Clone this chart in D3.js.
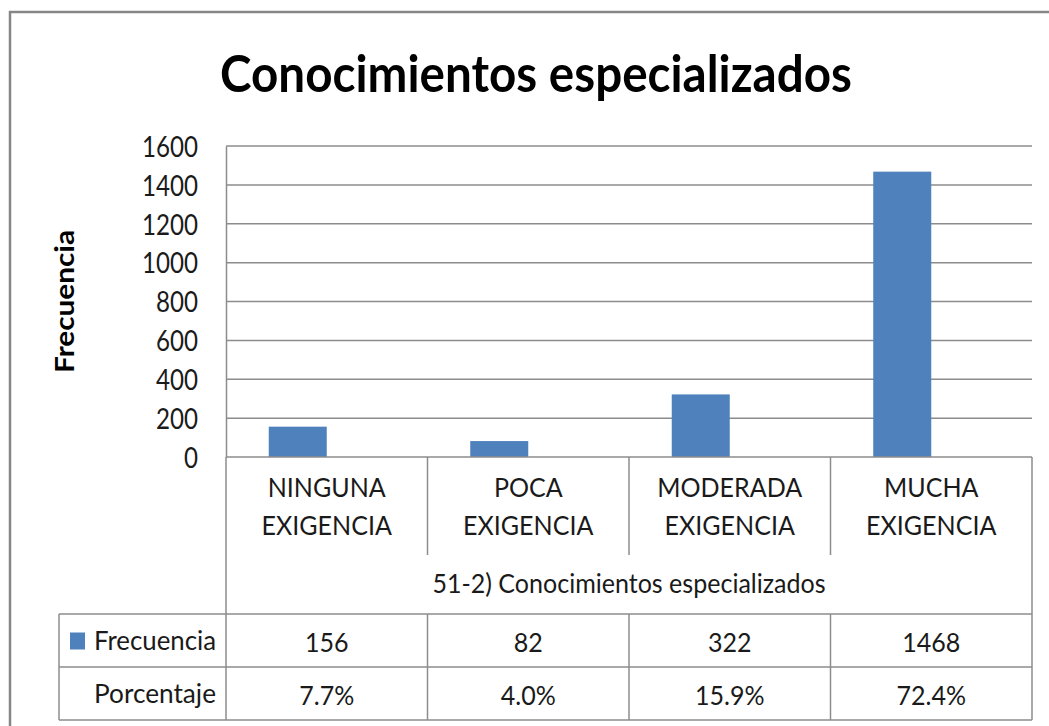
<!DOCTYPE html>
<html>
<head>
<meta charset="utf-8">
<script src="https://cdn.jsdelivr.net/npm/d3@7"></script>
<style>
  html, body { margin: 0; padding: 0; background: #fff; }
  svg { display: block; font-family: Lato, 'Open Sans', sans-serif; }
</style>
</head>
<body>
<svg width="1049" height="726"></svg>
<script>
const chartTitle = 'Conocimientos especializados';
const axisTitle = 'Frecuencia';
const groupTitle = '51-2) Conocimientos especializados';
const categories = ['NINGUNA EXIGENCIA', 'POCA EXIGENCIA', 'MODERADA EXIGENCIA', 'MUCHA EXIGENCIA'];
const seriesNames = ['Frecuencia', 'Porcentaje'];
const frecuencia = [156, 82, 322, 1468];
const porcentaje = [0.077, 0.040, 0.159, 0.724];
const yTicks = [0, 200, 400, 600, 800, 1000, 1200, 1400, 1600];

const barColor = '#4F81BD';
const lineColor = '#8c8c8c';
const textColor = '#1a1a1a';

const svg = d3.select('svg');

// plot area box
const plot = { left: 226, right: 1032, top: 146, bottom: 457 };
const table = { left: 59, top: 614, mid: 667, bottom: 720 };

const x = d3.scaleBand()
	.domain(categories)
	.range([plot.left, plot.right])
	.padding(0);

const xInner = d3.scaleBand()
	.domain(seriesNames)
	.range([0, x.bandwidth()])
	.paddingInner(0)
	.paddingOuter(0.737);

const y = d3.scaleLinear()
	.domain([0, 1600])
	.range([plot.bottom, plot.top]);

// measuring helper, to squeeze the fallback font to the original widths
const measure = (txt, size, weight) => {
	const t = svg.append('text')
		.attr('font-size', size)
		.attr('font-weight', weight)
		.text(txt);
	const w = t.node().getComputedTextLength();
	t.remove();
	return w;
};
const bodySize = 27.5;
const tickSize = 28.5;
const kBody = 118 / measure('NINGUNA', bodySize, 'normal');
const kTick = 56 / measure('1600', tickSize, 'normal');
const squeeze = (sel, k) => {
	sel.each(function () {
		const w = this.getComputedTextLength();
		d3.select(this)
			.attr('textLength', w * k)
			.attr('lengthAdjust', 'spacingAndGlyphs');
	});
};

// outer frame
svg.append('rect')
	.attr('x', 10)
	.attr('y', 12)
	.attr('width', 1100)
	.attr('height', 800)
	.attr('fill', 'none')
	.attr('stroke', '#868686')
	.attr('stroke-width', 2.5);

// title
const title = svg.append('text')
	.attr('x', 536)
	.attr('y', 92)
	.attr('text-anchor', 'middle')
	.attr('font-size', 52)
	.attr('font-weight', 'bold')
	.attr('fill', '#000')
	.text(chartTitle);
squeeze(title, 632 / title.node().getComputedTextLength());

// gridlines
svg.append('g')
	.selectAll('line')
	.data(yTicks.filter(d => d > 0))
	.enter()
		.append('line')
		.attr('x1', plot.left)
		.attr('x2', plot.right)
		.attr('y1', d => y(d))
		.attr('y2', d => y(d))
		.attr('stroke', lineColor)
		.attr('stroke-width', 1.5);

// y axis
const yAxis = svg.append('g')
	.attr('transform', `translate(${plot.left},0)`)
	.call(d3.axisLeft(y).tickValues(yTicks).tickFormat(d3.format('d')).tickSize(0).tickPadding(28));
yAxis.select('.domain')
	.attr('stroke', lineColor)
	.attr('stroke-width', 1.5);
yAxis.selectAll('text')
	.attr('font-family', 'Lato, sans-serif')
	.attr('font-size', tickSize)
	.attr('fill', textColor)
	.attr('dy', '0.36em');
squeeze(yAxis.selectAll('text'), kTick);

// y title
const yTitle = svg.append('text')
	.attr('transform', `translate(74, ${(plot.top + plot.bottom) / 2}) rotate(-90)`)
	.attr('text-anchor', 'middle')
	.attr('font-size', 27)
	.attr('font-weight', 'bold')
	.attr('fill', '#000')
	.text(axisTitle);
squeeze(yTitle, 143 / yTitle.node().getComputedTextLength());

// bars
const rows = categories.map((c, i) => ({ cat: c, values: [frecuencia[i], porcentaje[i]] }));
const groups = svg.append('g')
	.selectAll('g')
	.data(rows)
	.enter()
		.append('g')
		.attr('transform', d => `translate(${x(d.cat)},0)`);
groups.selectAll('rect')
	.data(d => d.values.map((v, j) => ({ key: seriesNames[j], v })))
	.enter()
		.append('rect')
		.attr('x', d => xInner(d.key))
		.attr('y', d => y(d.v))
		.attr('width', xInner.bandwidth())
		.attr('height', d => y(0) - y(d.v))
		.attr('fill', d => d.key === 'Frecuencia' ? barColor : 'none');

// axis base line
svg.append('line')
	.attr('x1', plot.left)
	.attr('x2', plot.right)
	.attr('y1', y(0))
	.attr('y2', y(0))
	.attr('stroke', lineColor)
	.attr('stroke-width', 1.5);

// category header cells
const lines = svg.append('g')
	.attr('stroke', lineColor)
	.attr('stroke-width', 1.5);
categories.slice(1).forEach((c) => {
	lines.append('line')
		.attr('x1', x(c)).attr('x2', x(c))
		.attr('y1', y(0)).attr('y2', 555);
});
lines.append('line')
	.attr('x1', plot.left).attr('x2', plot.left)
	.attr('y1', y(0)).attr('y2', table.bottom);
lines.append('line')
	.attr('x1', plot.right).attr('x2', plot.right)
	.attr('y1', y(0)).attr('y2', table.bottom);

const catText = svg.append('g')
	.attr('font-size', bodySize)
	.attr('fill', textColor)
	.attr('text-anchor', 'middle');
categories.forEach((c) => {
	c.split(' ').forEach((part, k) => {
		catText.append('text')
			.attr('x', x(c) + x.bandwidth() / 2)
			.attr('y', 497 + k * 38)
			.text(part);
	});
});
squeeze(catText.selectAll('text'), kBody);

const gTitle = svg.append('text')
	.attr('x', (plot.left + plot.right) / 2)
	.attr('y', 593)
	.attr('text-anchor', 'middle')
	.attr('font-size', bodySize)
	.attr('fill', textColor)
	.text(groupTitle);
squeeze(gTitle, kBody);

// data table
[table.top, table.mid, table.bottom].forEach((yy) => {
	lines.append('line')
		.attr('x1', table.left).attr('x2', plot.right)
		.attr('y1', yy).attr('y2', yy);
});
lines.append('line')
	.attr('x1', table.left).attr('x2', table.left)
	.attr('y1', table.top).attr('y2', table.bottom);
categories.slice(1).forEach((c) => {
	lines.append('line')
		.attr('x1', x(c)).attr('x2', x(c))
		.attr('y1', table.top).attr('y2', table.bottom);
});

const tableRows = [
	{ name: seriesNames[0], cells: frecuencia.map(d => String(d)), key: true },
	{ name: seriesNames[1], cells: porcentaje.map(d => (d * 100).toFixed(1) + '%'), key: false },
];
const rowY = d3.scaleBand()
	.domain(tableRows.map(d => d.name))
	.range([table.top, table.bottom]);

const tText = svg.append('g')
	.attr('font-size', bodySize)
	.attr('fill', textColor);
const rowLabels = svg.append('g')
	.attr('font-size', bodySize)
	.attr('fill', textColor)
	.attr('text-anchor', 'end');
tableRows.forEach((r) => {
	const base = rowY(r.name) + rowY.bandwidth() / 2 + 9;
	rowLabels.append('text')
		.attr('x', plot.left - 10)
		.attr('y', base)
		.text(r.name);
	if (r.key) {
		svg.append('rect')
			.attr('x', 70)
			.attr('y', base - 17)
			.attr('width', 15)
			.attr('height', 17)
			.attr('fill', barColor);
	}
	r.cells.forEach((v, i) => {
		tText.append('text')
			.attr('x', x(categories[i]) + x.bandwidth() / 2)
			.attr('y', base + 2)
			.attr('text-anchor', 'middle')
			.text(v);
	});
});
squeeze(tText.selectAll('text'), kBody);
rowLabels.selectAll('text').each(function () {
	d3.select(this)
		.attr('textLength', 122)
		.attr('lengthAdjust', 'spacingAndGlyphs');
});
</script>
</body>
</html>
